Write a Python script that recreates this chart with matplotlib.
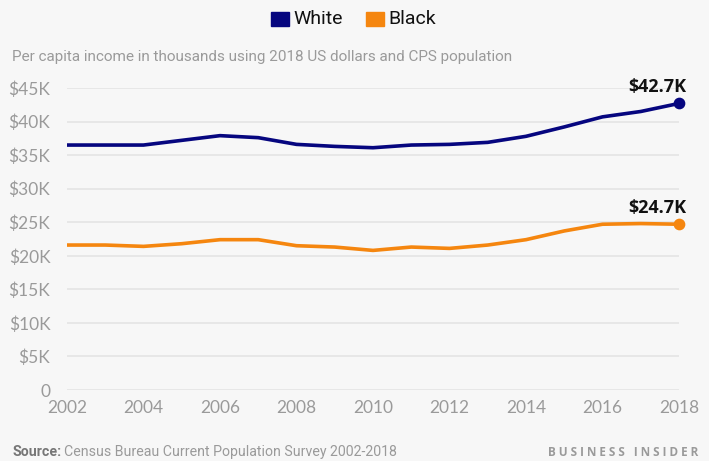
import matplotlib
matplotlib.use("Agg")
import matplotlib.pyplot as plt
from matplotlib.patches import Rectangle

years = [2002, 2003, 2004, 2005, 2006, 2007, 2008, 2009, 2010,
         2011, 2012, 2013, 2014, 2015, 2016, 2017, 2018]
white = [36.5, 36.5, 36.5, 37.2, 37.9, 37.6, 36.6, 36.3, 36.1,
         36.5, 36.6, 36.9, 37.8, 39.2, 40.7, 41.5, 42.7]
black = [21.6, 21.6, 21.4, 21.8, 22.4, 22.4, 21.5, 21.3, 20.8,
         21.3, 21.1, 21.6, 22.4, 23.7, 24.7, 24.8, 24.7]
series_names = ["White", "Black"]
end_labels = ["$42.7K", "$24.7K"]
y_ticks = [0, 5, 10, 15, 20, 25, 30, 35, 40, 45]
y_tick_labels = ["0", "$5K", "$10K", "$15K", "$20K", "$25K", "$30K", "$35K", "$40K", "$45K"]
x_ticks = [2002, 2004, 2006, 2008, 2010, 2012, 2014, 2016, 2018]

BG = "#f7f7f7"
NAVY = "#06067f"
ORANGE = "#f5860f"
GRAY = "#9a9a9a"
COND = ["Liberation Sans Narrow", "Roboto", "DejaVu Sans"]
TICKF = ["Lato", "DejaVu Sans"]
BOLDF = ["Open Sans", "DejaVu Sans"]

W, H = 709, 461
fig = plt.figure(figsize=(W / 100, H / 100), dpi=100, facecolor=BG)
ax = fig.add_axes([67 / W, (H - 390) / H, (679 - 67) / W, (390 - 88) / H], facecolor=BG)

for yv in y_ticks:
    ax.axhline(yv, color="#e4e4e4", lw=1.2, zorder=1)

ax.plot(years, white, color=NAVY, lw=2.6, zorder=3, solid_capstyle="butt")
ax.plot(years, black, color=ORANGE, lw=2.6, zorder=3, solid_capstyle="butt")
ax.scatter([years[-1]], [white[-1]], s=55, color=NAVY, zorder=4, clip_on=False)
ax.scatter([years[-1]], [black[-1]], s=55, color=ORANGE, zorder=4, clip_on=False)
for val, lab in zip([white[-1], black[-1]], end_labels):
    ax.annotate(lab, (years[-1], val), xytext=(5, 5), textcoords="offset points",
                ha="right", va="bottom", fontsize=13, fontweight="bold",
                color="#111111", family=BOLDF)

ax.set_xlim(2002, 2018)
ax.set_ylim(0, 45)
ax.set_yticks(y_ticks)
ax.set_yticklabels(y_tick_labels)
ax.set_xticks(x_ticks)
ax.set_xticklabels([str(x) for x in x_ticks])
ax.tick_params(length=0, colors=GRAY, labelsize=12.5)
ax.tick_params(axis="y", pad=12)
ax.tick_params(axis="x", pad=7)
for lbl in ax.get_xticklabels() + ax.get_yticklabels():
    lbl.set_family(TICKF)
for s in ax.spines.values():
    s.set_visible(False)

# legend
fig.patches.append(Rectangle((271 / W, 1 - 26 / H), 18 / W, 14 / H, transform=fig.transFigure,
                             color=NAVY, figure=fig))
fig.text(293 / W, 1 - 19 / H, series_names[0], fontsize=14, family=COND, color="#111111", va="center")
fig.patches.append(Rectangle((366 / W, 1 - 26 / H), 18 / W, 14 / H, transform=fig.transFigure,
                             color=ORANGE, figure=fig))
fig.text(388 / W, 1 - 19 / H, series_names[1], fontsize=14, family=COND, color="#111111", va="center")

fig.text(12 / W, 1 - 57 / H, "Per capita income in thousands using 2018 US dollars and CPS population",
         fontsize=11, family=COND, color=GRAY, va="center")

fig.text(12 / W, 1 - 452 / H, "Source:", fontsize=10.2, family=COND, color="#777777",
         va="center", fontweight="bold")
fig.text(64 / W, 1 - 452 / H, "Census Bureau Current Population Survey 2002-2018", fontsize=10.2,
         family=COND, color=GRAY, va="center")
fig.text(698 / W, 1 - 452 / H, "B U S I N E S S   I N S I D E R", fontsize=8.5, family=["Open Sans", "DejaVu Sans"],
         color="#9a9a9a", va="center", ha="right", fontweight="bold")

fig.savefig("out.png", dpi=100, facecolor=BG)
